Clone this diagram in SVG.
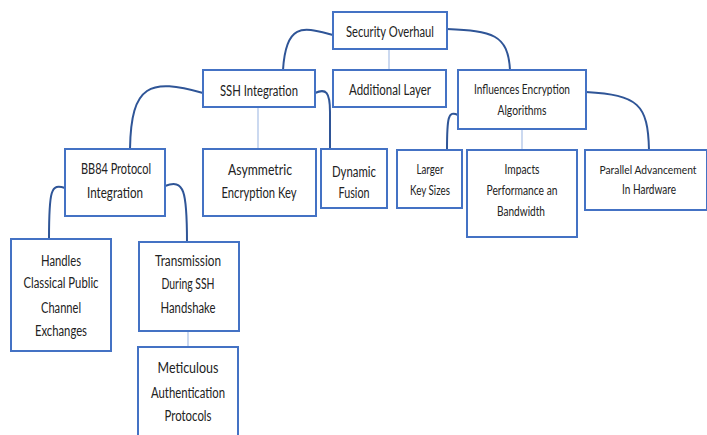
<svg xmlns="http://www.w3.org/2000/svg" width="707" height="435" viewBox="0 0 707 435">
  <style>
    .box { fill: #ffffff; stroke: #4472C4; stroke-width: 2; }
    .curve { fill: none; stroke: #2F5597; stroke-width: 2; }
    .thin { fill: none; stroke: #A9C0E6; stroke-width: 1.2; }
    text { font-family: "Lato", "Liberation Sans", sans-serif; fill: #222222; text-anchor: middle; }
    .t { font-size: 14.5px; }
    .s { font-size: 13px; }
    .xs { font-size: 12px; }
  </style>
  <rect width="707" height="435" fill="#ffffff"/>

  <!-- connectors -->
  <g id="connectors">
    <path class="curve" d="M333,35 C305,28 286,20 283,70"/>
    <path class="curve" d="M447,29 C492,31 508,34 510,70"/>
    <path class="thin" d="M389,49 L389,70"/>
    <path class="curve" d="M203,93 C150,78 131,84 130,149"/>
    <path class="thin" d="M258,107 L258,149"/>
    <path class="curve" d="M315,93 C326,88 330,92 330,112 L330,149"/>
    <path class="curve" d="M65,188 C51,183 49,190 49,239"/>
    <path class="curve" d="M165,186 C184,179 187,190 187,242"/>
    <path class="thin" d="M188,331 L188,347"/>
    <path class="curve" d="M458,115 C448,110 447,118 447,150"/>
    <path class="thin" d="M522,129 L522,150"/>
    <path class="curve" d="M586,92 C638,95 648,104 649,150"/>
  </g>

  <g id="security-overhaul">
    <rect class="box" x="333" y="12" width="114" height="37"/>
    <text class="t" x="390" y="37" textLength="88" lengthAdjust="spacingAndGlyphs">Security Overhaul</text>
  </g>

  <g id="ssh-integration">
    <rect class="box" x="203" y="70" width="112" height="37"/>
    <text class="t" x="259" y="96" textLength="78" lengthAdjust="spacingAndGlyphs">SSH Integration</text>
  </g>

  <g id="additional-layer">
    <rect class="box" x="333" y="70" width="113" height="37"/>
    <text class="t" x="390" y="95" textLength="82" lengthAdjust="spacingAndGlyphs">Additional Layer</text>
  </g>

  <g id="influences-encryption">
    <rect class="box" x="458" y="70" width="128" height="59"/>
    <text class="s" x="522" y="94" textLength="96" lengthAdjust="spacingAndGlyphs">Influences Encryption</text>
    <text class="s" x="522" y="115" textLength="49" lengthAdjust="spacingAndGlyphs">Algorithms</text>
  </g>

  <g id="bb84-protocol">
    <rect class="box" x="65" y="149" width="100" height="67"/>
    <text class="t" x="116" y="174" textLength="70" lengthAdjust="spacingAndGlyphs">BB84 Protocol</text>
    <text class="t" x="115" y="198" textLength="56" lengthAdjust="spacingAndGlyphs">Integration</text>
  </g>

  <g id="asymmetric-key">
    <rect class="box" x="203" y="149" width="113" height="67"/>
    <text class="t" x="260" y="175" textLength="64" lengthAdjust="spacingAndGlyphs">Asymmetric</text>
    <text class="t" x="259" y="198" textLength="75" lengthAdjust="spacingAndGlyphs">Encryption Key</text>
  </g>

  <g id="dynamic-fusion">
    <rect class="box" x="321" y="149" width="66" height="59"/>
    <text class="t" x="354" y="177" textLength="44" lengthAdjust="spacingAndGlyphs">Dynamic</text>
    <text class="t" x="354" y="198" textLength="31" lengthAdjust="spacingAndGlyphs">Fusion</text>
  </g>

  <g id="larger-key-sizes">
    <rect class="box" x="397" y="150" width="65" height="58"/>
    <text class="s" x="430" y="174" textLength="27" lengthAdjust="spacingAndGlyphs">Larger</text>
    <text class="s" x="430" y="195" textLength="40" lengthAdjust="spacingAndGlyphs">Key Sizes</text>
  </g>

  <g id="impacts-performance">
    <rect class="box" x="467" y="150" width="110" height="87"/>
    <text class="s" x="522" y="174" textLength="35" lengthAdjust="spacingAndGlyphs">Impacts</text>
    <text class="s" x="522" y="195" textLength="71" lengthAdjust="spacingAndGlyphs">Performance an</text>
    <text class="s" x="521" y="216" textLength="48" lengthAdjust="spacingAndGlyphs">Bandwidth</text>
  </g>

  <g id="parallel-advancement">
    <rect class="box" x="585" y="150" width="122" height="60"/>
    <text class="xs" x="648" y="174" textLength="97" lengthAdjust="spacingAndGlyphs">Parallel Advancement</text>
    <text class="s" x="649" y="194" textLength="54" lengthAdjust="spacingAndGlyphs">In Hardware</text>
  </g>

  <g id="handles-classical">
    <rect class="box" x="11" y="239" width="100" height="112"/>
    <text class="t" x="61" y="266" textLength="40" lengthAdjust="spacingAndGlyphs">Handles</text>
    <text class="t" x="61" y="288" textLength="75" lengthAdjust="spacingAndGlyphs">Classical Public</text>
    <text class="t" x="61" y="313" textLength="40" lengthAdjust="spacingAndGlyphs">Channel</text>
    <text class="t" x="61" y="336" textLength="52" lengthAdjust="spacingAndGlyphs">Exchanges</text>
  </g>

  <g id="transmission-handshake">
    <rect class="box" x="139" y="242" width="100" height="89"/>
    <text class="t" x="188" y="266" textLength="66" lengthAdjust="spacingAndGlyphs">Transmission</text>
    <text class="t" x="188" y="289" textLength="53" lengthAdjust="spacingAndGlyphs">During SSH</text>
    <text class="t" x="188" y="313" textLength="55" lengthAdjust="spacingAndGlyphs">Handshake</text>
  </g>

  <g id="meticulous-authentication">
    <rect class="box" x="138" y="347" width="100" height="95"/>
    <text class="t" x="188" y="373" textLength="61" lengthAdjust="spacingAndGlyphs">Meticulous</text>
    <text class="t" x="188" y="398" textLength="74" lengthAdjust="spacingAndGlyphs">Authentication</text>
    <text class="t" x="188" y="421" textLength="47" lengthAdjust="spacingAndGlyphs">Protocols</text>
  </g>
</svg>
